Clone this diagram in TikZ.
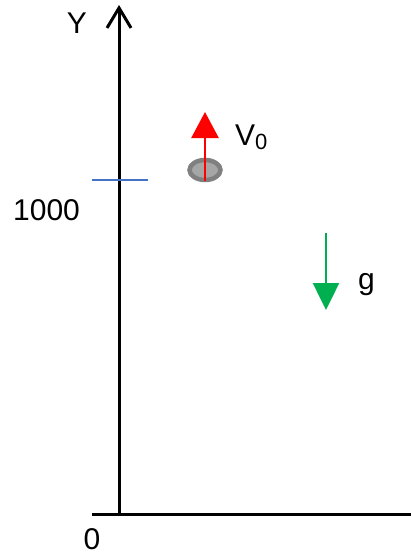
\documentclass[tikz,border=0pt]{standalone}
\usepackage{fontspec}
\setmainfont{Liberation Sans}
\usetikzlibrary{arrows.meta}
\definecolor{tickblue}{RGB}{68,114,196}
\definecolor{ballring}{RGB}{128,128,128}
\definecolor{ballfill}{RGB}{166,166,166}
\definecolor{gravgreen}{RGB}{0,176,80}
\newcommand{\lowzero}{\raisebox{-4pt}{\fontsize{22}{24}\selectfont 0}}
\begin{document}
\begin{tikzpicture}[x=1pt, y=-1pt, line cap=butt, line join=miter,
	lbl/.style={inner sep=0pt, anchor=base, font=\fontsize{30}{34}\selectfont}]
	
	% Frame of the picture
	\useasboundingbox (0,0) rectangle (410,554);
	
	% Axis end points
	\coordinate (O) at (119,514);
	\coordinate (Ytop) at (119,5);
	\coordinate (Xleft) at (92,514);
	\coordinate (Xright) at (412,514);
	
	% Tick for 1000
	\coordinate (T1) at (92,180);
	\coordinate (T2) at (148,180);
	
	% Ball and velocity
	\coordinate (ball) at (205,170);
	\coordinate (vtip) at (205,112);
	
	% Gravity arrow
	\coordinate (gtail) at (326,233);
	\coordinate (gtip) at (326,310);
	
	% Draw axes
	\draw[line width=3pt, -{Straight Barb[length=20pt, width=24pt, line width=3pt]}] (119,516) -- (Ytop);
	\draw[line width=3pt] (Xleft) -- (Xright);
	
	% Tick
	\draw[tickblue, line width=1.5pt] (T1) -- (T2);
	
	% Ball
	\draw[ballring, fill=ballfill, line width=4.5pt] (ball) ellipse (15.5 and 10);
	
	% Arrows
	\draw[red, line width=2.5pt, -{Triangle[length=26pt, width=27pt]}] (205,181) -- (vtip);
	\draw[gravgreen, line width=2.5pt, -{Triangle[length=27pt, width=26pt]}] (gtail) -- (gtip);
	
	% Labels
	\node[lbl] (ylabel) at (77,33) {Y};
	\node[lbl, anchor=base west] (ylevel) at (13,220) {1000};
	\node[lbl] (origin) at (92,549) {0};
	\node[lbl, anchor=base west] (vlabel) at (235,145) {V\lowzero};
	\node[lbl, anchor=base west] (glabel) at (358,289) {g};
	
\end{tikzpicture}
\end{document}
